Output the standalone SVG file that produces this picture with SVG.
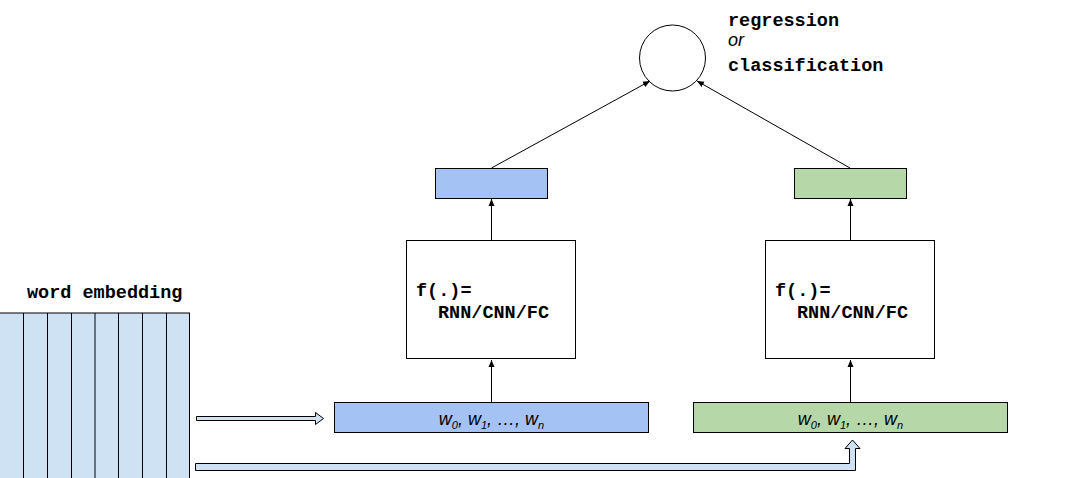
<svg xmlns="http://www.w3.org/2000/svg" width="1086" height="478" viewBox="0 0 1086 478">
<defs>
<marker id="ah" markerWidth="8" markerHeight="8" refX="7" refY="4" orient="auto" markerUnits="userSpaceOnUse">
<path d="M0,1 L7,4 L0,7 Z" fill="#000"/>
</marker>
<style>
.mono{font-family:"Liberation Mono",monospace;font-weight:bold;font-size:18.5px;fill:#000}
.it{font-family:"Liberation Sans",Arial,sans-serif;font-style:italic;font-size:18px;fill:#000}
.box{stroke:#000;stroke-width:1}
.line{stroke:#000;stroke-width:1;fill:none}
.hollow{fill:#cfe2f3;stroke:#000;stroke-width:1}
</style>
</defs>
<rect width="1086" height="478" fill="#fff"/>

<g id="output">
<circle cx="672.5" cy="58" r="33" fill="#fff" class="box"/>
<text class="mono" x="728" y="26">regression</text>
<text class="it" x="728" y="46">or</text>
<text class="mono" x="728" y="71">classification</text>
</g>

<g id="embedding">
<text class="mono" x="27" y="298">word embedding</text>
<rect x="-1" y="313" width="190.5" height="170" fill="#cfe2f3" class="box"/>
<path class="line" d="M23.5,313V478 M47.5,313V478 M71.5,313V478 M95,313V478 M118.5,313V478 M142.5,313V478 M166.5,313V478"/>
</g>

<g id="blue-input">
<rect x="334.5" y="402.5" width="314" height="30" fill="#a4c2f4" class="box"/>
<text class="it" x="491.5" y="425" text-anchor="middle">w<tspan font-size="11" dy="4">0</tspan><tspan dy="-4">, w</tspan><tspan font-size="11" dy="4">1</tspan><tspan dy="-4">, …, w</tspan><tspan font-size="11" dy="4">n</tspan></text>
</g>
<g id="blue-f">
<rect x="406.5" y="240.5" width="169" height="118" fill="#fff" class="box"/>
<text class="mono" x="416" y="296">f(.)=</text>
<text class="mono" x="438" y="318">RNN/CNN/FC</text>
</g>
<g id="blue-out">
<rect x="435.5" y="168.5" width="112" height="30" fill="#a4c2f4" class="box"/>
</g>

<g id="green-input">
<rect x="693.5" y="402.5" width="314" height="30" fill="#b6d7a8" class="box"/>
<text class="it" x="850.5" y="425" text-anchor="middle">w<tspan font-size="11" dy="4">0</tspan><tspan dy="-4">, w</tspan><tspan font-size="11" dy="4">1</tspan><tspan dy="-4">, …, w</tspan><tspan font-size="11" dy="4">n</tspan></text>
</g>
<g id="green-f">
<rect x="765.5" y="240.5" width="169" height="118" fill="#fff" class="box"/>
<text class="mono" x="775" y="296">f(.)=</text>
<text class="mono" x="797" y="318">RNN/CNN/FC</text>
</g>
<g id="green-out">
<rect x="794.5" y="168.5" width="112" height="30" fill="#b6d7a8" class="box"/>
</g>

<g id="connectors">
<line class="line" x1="491.5" y1="402" x2="491.5" y2="360" marker-end="url(#ah)"/>
<line class="line" x1="491.5" y1="240" x2="491.5" y2="199" marker-end="url(#ah)"/>
<line class="line" x1="850.5" y1="402" x2="850.5" y2="360" marker-end="url(#ah)"/>
<line class="line" x1="850.5" y1="240" x2="850.5" y2="199" marker-end="url(#ah)"/>
<line class="line" x1="491.5" y1="168" x2="650" y2="81" marker-end="url(#ah)"/>
<line class="line" x1="850" y1="168" x2="697" y2="81" marker-end="url(#ah)"/>
<path class="hollow" d="M196.5,416.5 H315.5 V412.5 L323.5,418.5 L315.5,424.5 V420.5 H196.5 Z"/>
<path class="hollow" d="M195.5,463.5 H849.5 V448.5 H845 L852.5,440 L860,448.5 H855.5 V470.5 H195.5 Z"/>
</g>
</svg>
